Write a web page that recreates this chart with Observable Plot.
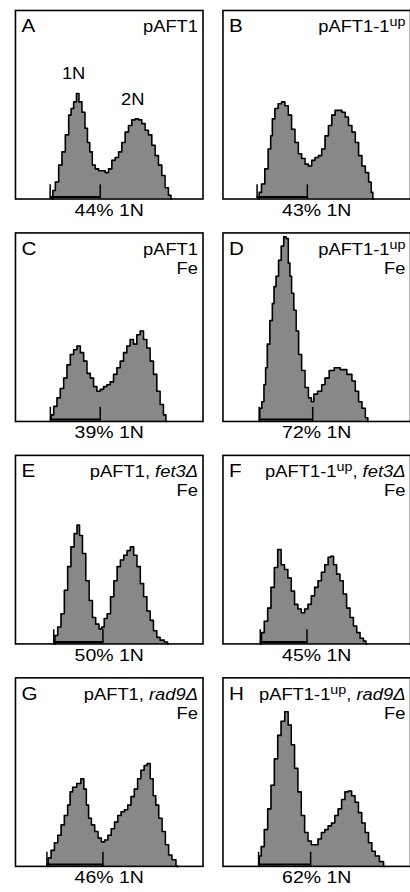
<!DOCTYPE html>
<html>
<head>
<meta charset="utf-8">
<script src="https://cdn.jsdelivr.net/npm/d3@7"></script>
<script src="https://cdn.jsdelivr.net/npm/@observablehq/plot@0.6"></script>
<style>
  html, body { margin: 0; padding: 0; background: #fff; overflow: hidden; }
  #chart svg { display: block; }
</style>
</head>
<body>
<div id="chart"></div>
<script>
// ---- Data ----
const panelLetters = ["A", "B", "C", "D", "E", "F", "G", "H"];
// {..} = superscript, [..] = italic
const conditions = ["pAFT1", "pAFT1-1{up}", "pAFT1", "pAFT1-1{up}",
  "pAFT1, [fet3Δ]", "pAFT1-1{up}, [fet3Δ]", "pAFT1, [rad9Δ]", "pAFT1-1{up}, [rad9Δ]"];
const treatments = ["", "", "Fe", "Fe", "Fe", "Fe", "Fe", "Fe"];
const pct1N = [44, 43, 39, 72, 50, 45, 46, 62];
// gate (1N region) in channel units
const gateStart = [37, 36.4, 37.2, 38.6, 40.8, 39.8, 33.5, 38];
const gateEnd = [90.4, 90, 90.4, 95.7, 93.3, 89.6, 93.3, 93.5];
const peakNames = ["1N", "2N"]; // annotated in panel A

// histograms: [channel, count]
const histA = [[39,0],[40.8,9],[44.3,18],[47.9,36],[51.4,50],[55,68],[58.5,89],[60.3,96],[63.8,103],[66.3,112],[69.1,103],[72.7,92],[75.5,75],[78,60],[80.5,50],[83.3,36],[86.9,32],[90.4,30],[94,30],[97.5,28],[101,32],[104.6,41],[108.2,44],[111.7,50],[115.2,60],[118.8,71],[122.3,78],[125.9,84],[129.4,85],[133,84],[136.5,80],[140,73],[143.6,68],[147.2,57],[150.7,46],[154.3,36],[157.8,25],[161.3,12],[164.9,4],[166.7,0]];
const histB = [[38,0],[39.3,7],[42.9,16],[46.4,32],[50,53],[51.8,67],[53.6,85],[57.1,96],[60.7,101],[64.3,103],[67.9,99],[71.4,89],[75,74],[78.6,60],[82.1,48],[85.7,43],[89.3,37],[92.9,35],[96.4,41],[100,44],[103.6,46],[107,53],[110.7,67],[114.3,78],[117.9,89],[121.4,94],[125,94],[128.6,92],[132,87],[135.7,78],[139.3,71],[142.9,60],[146.4,46],[150,35],[153.6,28],[157.1,18],[159,7],[160.7,0]];
const histC = [[37,0],[39,7],[42.6,16],[46,25],[49.6,35],[53.2,46],[56.7,60],[60.3,71],[63.8,76],[67.4,80],[70.9,73],[74.5,64],[78,51],[81.6,46],[85,37],[88.7,32],[92.2,34],[95.7,37],[99.3,39],[102.8,42],[106.4,50],[110,57],[113.5,64],[117,73],[120.6,80],[124,87],[127.7,82],[131.2,92],[134.8,96],[138.3,87],[141.8,78],[145.4,64],[149,50],[152.5,32],[156,18],[159.6,7],[161.3,0]];
const histD = [[38.6,0],[40,14],[42.9,21],[44.6,39],[46.4,57],[48.2,82],[51.8,107],[53.6,125],[55.4,143],[57.9,154],[60.7,171],[63.6,186],[66,196],[68.6,194],[70.7,168],[72.1,154],[74.3,136],[76.8,118],[79.3,96],[82.1,71],[85.7,54],[89.3,36],[92.9,25],[95.7,21],[98.2,29],[103.6,32],[107,39],[110.7,46],[116,54],[121.4,57],[128.6,55],[135.7,50],[139.3,43],[142.9,32],[146.4,21],[150,14],[153.6,4],[155.4,0]];
const histE = [[41,0],[43.3,9],[46.8,18],[50.4,32],[53.9,57],[57.4,82],[60.9,103],[64.4,117],[66.9,126],[69.7,115],[73.2,96],[76.8,67],[80.3,46],[83.8,28],[87.3,21],[90.8,16],[93.3,18],[96.1,27],[99.6,32],[103.2,50],[106.7,67],[110.2,82],[113.7,89],[117.3,94],[120.8,99],[124.3,103],[127.8,94],[131.3,82],[134.9,64],[138.4,50],[141.9,35],[145.4,25],[148.9,14],[152.5,7],[156,4],[161.3,2],[163,0]];
const histF = [[39.8,0],[42.3,12],[45.9,24],[49.5,38],[53,60],[56.6,81],[60.2,100],[63.8,84],[67.4,79],[71,70],[74.6,56],[78.1,42],[81.7,37],[85.3,33],[88.9,37],[92.5,42],[96,51],[99.6,60],[103.2,67],[106.8,76],[110.4,84],[114,92],[116.5,93],[119.4,84],[123,74],[126.5,67],[130,53],[133.7,38],[137.3,28],[140.9,19],[144.4,12],[148,6],[151.6,3],[153.4,0]];
const histG = [[33.5,0],[36.3,9],[39.8,17],[43.3,25],[47,33],[50.4,44],[53.9,54],[57.4,65],[59.2,79],[62.7,84],[68,88],[71.5,93],[74.3,82],[76.8,65],[79.2,51],[82.7,44],[86.3,37],[89.8,30],[93.3,26],[96.8,28],[100.4,33],[103.9,40],[107.4,47],[110.9,54],[114.4,58],[118,60],[121.5,65],[125,74],[128.5,82],[132,93],[135.6,102],[139,107],[141.9,109],[145.4,93],[148.2,75],[151,65],[154.6,51],[158.1,37],[161.6,23],[165.1,12],[168.7,7],[173.6,0]];
const histH = [[38,0],[39.4,11],[42.3,21],[45.9,39],[49.5,61],[53,86],[56.6,114],[60.2,139],[63.8,154],[68,164],[71,150],[74.6,129],[78.1,104],[81.7,79],[85.3,54],[88.9,36],[92.5,27],[96,23],[99.6,23],[103.2,29],[106.8,36],[110.4,39],[114,43],[117.6,46],[121,54],[124.7,61],[128.3,71],[131.9,79],[135.5,80],[139,75],[142.7,68],[146.2,57],[149.8,46],[153.4,36],[157,25],[160.6,16],[164.2,11],[169.5,5],[173,0]];
const histograms = [histA, histB, histC, histD, histE, histF, histG, histH];

// ---- Build tables ----
const panels = panelLetters.map((letter, i) => ({
  letter, col: i % 2, row: Math.floor(i / 2),
  cond: conditions[i], treat: treatments[i],
  pct: `${pct1N[i]}% 1N`, g0: gateStart[i], g1: gateEnd[i]
}));
const hist = panels.flatMap((p, i) =>
  histograms[i].map(([ch, n]) => ({col: p.col, row: p.row, ch, n})));
const gateTicks = panels.flatMap(p => [
  {col: p.col, row: p.row, ch: p.g0},
  {col: p.col, row: p.row, ch: p.g1}
]);
// 1N / 2N peak annotations in panel A, located at the histogram maxima
const peaks = (() => {
  const p = panels[0];
  const left = histA.filter(d => d[0] <= p.g1);
  const right = histA.filter(d => d[0] > p.g1);
  const m1 = left.reduce((a, b) => (b[1] > a[1] ? b : a));
  const m2 = right.reduce((a, b) => (b[1] > a[1] ? b : a));
  return [
    {col: p.col, row: p.row, ch: m1[0], n: m1[1], label: peakNames[0]},
    {col: p.col, row: p.row, ch: m2[0], n: m2[1], label: peakNames[1]}
  ];
})();
const gateTickHeight = 15;

const FONT = "'Liberation Sans', Arial, Helvetica, sans-serif";

const chart = Plot.plot({
  width: 411,
  height: 892,
  marginLeft: 15,
  marginRight: 0,
  marginTop: 9,
  marginBottom: 24,
  style: {fontFamily: FONT, background: "#fff", color: "#000", overflow: "visible"},
  x: {domain: [0, 200], axis: null},
  y: {domain: [0, 200], axis: null},
  fx: {domain: [0, 1], axis: null, paddingInner: 0.0962, paddingOuter: 0},
  fy: {domain: [0, 1, 2, 3], axis: null, paddingInner: 0.1537, paddingOuter: 0},
  marks: [
    Plot.areaY(hist, {x: "ch", y: "n", fx: "col", fy: "row", curve: "step", fill: "#888888"}),
    Plot.lineY(hist, {x: "ch", y: "n", fx: "col", fy: "row", curve: "step", stroke: "#000", strokeWidth: 1.6}),
    Plot.ruleY(panels, {x1: "g0", x2: "g1", y: 0, dy: -2, fx: "col", fy: "row", stroke: "#000", strokeWidth: 2}),
    Plot.ruleX(gateTicks, {x: "ch", y1: 0, y2: gateTickHeight, fx: "col", fy: "row", stroke: "#000", strokeWidth: 1.5}),
    Plot.frame({stroke: "#000", strokeWidth: 1.6}),
    Plot.text(panels, {fx: "col", fy: "row", text: "letter", frameAnchor: "top-left", textAnchor: "start",
      lineAnchor: "bottom", dx: 6, dy: 22, fontSize: 18, fill: "#000"}),
    Plot.text(panels, {fx: "col", fy: "row", text: "cond", frameAnchor: "top-right", textAnchor: "end",
      lineAnchor: "bottom", dx: -5, dy: 22, fontSize: 16, fill: "#000"}),
    Plot.text(panels, {fx: "col", fy: "row", text: "treat", frameAnchor: "top-right", textAnchor: "end",
      lineAnchor: "bottom", dx: -5, dy: 41, fontSize: 16, fill: "#000"}),
    Plot.text(panels, {fx: "col", fy: "row", text: "pct", frameAnchor: "bottom", textAnchor: "middle",
      lineAnchor: "bottom", dy: 17, fontSize: 17, fill: "#000"}),
    Plot.text(peaks, {x: "ch", y: "n", fx: "col", fy: "row", text: "label", lineAnchor: "bottom",
      dx: -4, dy: -14, fontSize: 16, fill: "#000"})
  ]
});

document.getElementById("chart").appendChild(chart);

// Rich text: superscripts {..} and italics [..] in the condition labels
const NS = "http://www.w3.org/2000/svg";
chart.querySelectorAll("text").forEach(t => {
  const src = t.textContent;
  if (!/[{\[]/.test(src)) return;
  while (t.firstChild) t.removeChild(t.firstChild);
  const re = /\{([^}]*)\}|\[([^\]]*)\]|([^{\[]+)/g;
  let m, raised = false;
  while ((m = re.exec(src))) {
    const ts = document.createElementNS(NS, "tspan");
    if (m[1] !== undefined) {
      ts.textContent = m[1];
      ts.setAttribute("font-size", "12.5");
      ts.setAttribute("dy", "-6");
      raised = true;
    } else {
      ts.textContent = m[2] !== undefined ? m[2] : m[3];
      if (m[2] !== undefined) ts.setAttribute("font-style", "italic");
      if (raised) { ts.setAttribute("dy", "6"); raised = false; }
    }
    t.appendChild(ts);
  }
});
// The reference lettering is slightly wide: stretch each label horizontally about its anchor
chart.querySelectorAll("text").forEach(t => {
  const tr = t.getAttribute("transform") || "";
  t.setAttribute("transform", tr + " scale(1.15,1)");
});
</script>
</body>
</html>
